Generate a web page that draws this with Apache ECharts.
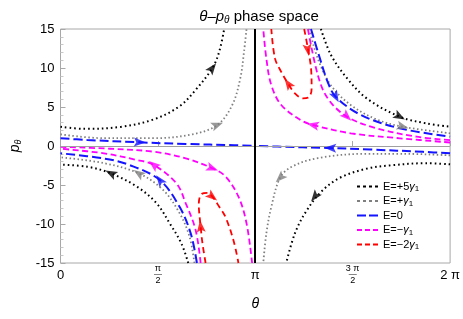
<!DOCTYPE html>
<html><head><meta charset="utf-8">
<script src="https://cdn.jsdelivr.net/npm/echarts@6/dist/echarts.min.js"></script>
<style>html,body{margin:0;padding:0;background:#fff}#c{width:463px;height:319px}</style>
</head><body><div id="c"></div>
<script>
// ---- data (theta, p_theta) ----
const K1 = [[0,2.47],[0.38,2.2],[0.97,2.45],[1.5,3.4],[1.92,5.1],[2.18,7.2],[2.45,10.0],[2.56,12.1],[2.64,15]];
const K2 = [[4.2,15],[4.36,11.7],[4.62,8.7],[4.94,6.1],[5.47,3.76],[5.9,2.9],[6.283,2.47]];
const K3 = [[6.283,-2.35],[5.9,-2.2],[5.3,-2.5],[4.94,-2.9],[4.5,-4.1],[4.2,-5.9],[3.96,-8.4],[3.78,-11.2],[3.64,-15]];
const K4 = [[2.06,-15],[1.95,-12.5],[1.76,-9.9],[1.55,-7.35],[1.23,-5.2],[0.81,-3.5],[0.43,-2.65],[0,-2.4]];
const G1 = [[0,1.5],[0.7,1.0],[1.5,1.0],[2.13,1.5],[2.53,2.7],[2.77,5.26],[2.9,8.7],[2.96,12.1],[3.0,15]];
const G2 = [[4.01,15],[4.15,11.2],[4.36,7.8],[4.68,5.26],[5.1,3.4],[5.52,2.47],[6.283,1.63]];
const G3 = [[6.283,-1.2],[5.5,-1.0],[4.94,-1.0],[4.15,-1.55],[3.72,-2.7],[3.54,-4.1],[3.4,-7.8],[3.32,-11.2],[3.27,-15]];
const G4 = [[2.16,-15],[2.08,-11.6],[1.92,-8.6],[1.65,-5.6],[1.26,-3.5],[0.7,-2.2],[0,-1.45]];
const B1 = [[0,1.0],[0.43,0.77],[1.28,0.47],[2.02,0.26],[2.8,0.1],[3.14,0.0]];
const B2 = [[4.04,15],[4.15,12.1],[4.31,8.2],[4.44,6.3],[4.84,4.0],[5.47,2.27],[6.283,1.2]];
const B3 = [[6.283,-0.94],[5.85,-0.75],[5.0,-0.45],[4.3,-0.25],[3.5,-0.08],[3.15,0.0]];
const B4 = [[2.2,-15],[2.1,-11.2],[1.92,-7.8],[1.6,-4.36],[1.1,-2.4],[0.7,-1.6],[0,-0.94]];
const M1 = [[0,-0.1],[0.8,-0.35],[1.5,-0.73],[2.02,-1.58],[2.45,-2.86],[2.66,-3.9],[2.87,-6.5],[3.0,-9.9],[3.09,-15]];
const M2 = [[2.26,-15],[2.18,-10.8],[2.02,-7.35],[1.87,-4.8],[1.5,-2.4],[1.23,-1.8],[0.7,-0.94],[0,-0.35]];
const M3 = [[6.283,0.45],[5.47,0.99],[4.68,1.63],[4.07,2.7],[3.88,3.3],[3.56,5.26],[3.4,7.8],[3.32,11.2],[3.27,15]];
const M4 = [[3.99,15],[4.15,9.1],[4.31,6.1],[4.62,3.76],[5.1,2.27],[5.74,1.2],[6.283,0.75]];
const R1 = [[3.93,15],[3.99,12.5],[4.04,10],[4.05,7.4],[4.01,6.3],[3.91,6.1],[3.78,6.75],[3.67,8.0],[3.56,9.5],[3.46,11.2],[3.4,15]];
const R2 = [[2.34,-15],[2.29,-12.5],[2.26,-10.3],[2.23,-7.4],[2.27,-6.2],[2.37,-6.0],[2.45,-6.5],[2.56,-7.8],[2.66,-9.1],[2.79,-12.1],[2.87,-15]];
// arrows: curve, theta, p
const arrowCurve = ['K1','K2','K3','K4','G1','G2','G3','G4','B1','B2','B3','B4','M1','M3','M2','M4','R1','R1','R2','R2'];
const arrowTheta = [2.45,5.47,4.1,0.81,2.53,5.52,3.54,1.26,1.28,4.44,4.35,1.6,2.45,4.07,1.5,4.62,3.67,3.99,2.26,2.45];
const arrowP     = [10.0,3.76,-6.5,-3.5,2.7,2.47,-4.1,-3.5,0.47,6.3,-0.25,-4.36,-2.86,2.7,-2.4,3.76,8.0,12.3,-10.3,-6.5];
const energyNames = ['E=+5γ1','E=+γ1','E=0','E=−γ1','E=−2γ1'];
const xTicks = ['0','{n|π}\n{b|—}\n{d|2}','{p|π}','{n|3 π}\n{b|—}\n{d|2}','2 π'];
const separatrixTheta = [Math.PI];
const zeroLineP = [0];

const curves = {K1,K2,K3,K4,G1,G2,G3,G4,B1,B2,B3,B4,M1,M2,M3,M4,R1,R2};
const styles = {
  K:{name:energyNames[0], color:'#000000', width:2, type:[1.6,3], icon:'path://M0,0h3v2h-3zM6,0h3v2h-3zM12,0h3v2h-3zM18,0h3v2h-3z'},
  G:{name:energyNames[1], color:'#7f7f7f', width:1.8, type:[1.5,2.5], icon:'path://M0,0h3v2h-3zM6,0h3v2h-3zM12,0h3v2h-3zM18,0h3v2h-3z'},
  B:{name:energyNames[2], color:'#1414ff', width:2, type:[9,4], icon:'path://M0,0h9v2h-9zM12,0h9v2h-9z'},
  M:{name:energyNames[3], color:'#ff00ff', width:1.8, type:[6,3.5], icon:'path://M0,0h5v2h-5zM8,0h5v2h-5zM16,0h5v2h-5z'},
  R:{name:energyNames[4], color:'#ff0000', width:1.8, type:[6,4], icon:'path://M0,0h5v2h-5zM8,0h5v2h-5zM16,0h5v2h-5z'}
};
const FONT = 'Liberation Sans, Arial, sans-serif';
const series = [];
series.push({type:'line', data:[], silent:true, markLine:{silent:true, symbol:'none', label:{show:false},
  data:[{yAxis:zeroLineP[0], lineStyle:{color:'#a0a0a0', width:1.2, type:'solid'}},
        {xAxis:separatrixTheta[0], lineStyle:{color:'#000', width:2, type:'solid'}}]}});
Object.keys(curves).forEach(k=>{
  const s = styles[k[0]];
  series.push({type:'line', name:s.name, data:curves[k], showSymbol:false, symbol:'none', smooth:0.35,
    lineStyle:{color:s.color, width:s.width, type:s.type, cap:'butt'}, itemStyle:{color:s.color}, z:3});
});
series.push({id:'arrows', type:'scatter', data:[], z:10, silent:true});

const legendData = ['K','G','B','M','R'].map(k=>({name:styles[k].name, icon:styles[k].icon}));

const option = {
  animation:false,
  textStyle:{fontFamily:FONT},
  title:{text:'{i|θ}–{i|p}{s|θ} phase space', left:254, textAlign:'center', top:3,
    textStyle:{fontFamily:FONT, fontSize:15, fontWeight:'normal', color:'#000',
      rich:{i:{fontFamily:FONT,fontSize:15,fontStyle:'italic'}, s:{fontFamily:FONT,fontSize:10,fontStyle:'italic',padding:[7,0,0,0]}}}},
  legend:{data:legendData, orient:'vertical', left:357, top:180, padding:0, itemWidth:21, itemHeight:2.2, itemGap:1.5,
    textStyle:{fontFamily:FONT, fontSize:11, color:'#000', lineHeight:13,
      rich:{g:{fontFamily:FONT,fontSize:11,fontStyle:'italic',lineHeight:13}, s:{fontFamily:FONT,fontSize:8,padding:[5,0,0,0],lineHeight:13}}},
    formatter: n => n.replace('γ1','{g|γ}{s|1}')},
  grid:{left:56, right:12, top:29, bottom:56, show:true, borderColor:'#a8a8a8', borderWidth:1},
  xAxis:{type:'value', min:0, max:2*Math.PI, interval:Math.PI/2,
    name:'θ', nameLocation:'middle', nameGap:34, nameTextStyle:{fontFamily:FONT, fontSize:14, fontStyle:'italic', color:'#000'},
    axisLine:{show:false}, splitLine:{show:false},
    axisTick:{show:true, inside:true, length:5, lineStyle:{color:'#a8a8a8'}},
    minorTick:{show:false},
    axisLabel:{margin:12, verticalAlign:'middle', color:'#000', fontFamily:FONT, fontSize:13,
      formatter: v => xTicks[Math.round(v/(Math.PI/2))],
      rich:{n:{fontSize:9,lineHeight:8,fontFamily:FONT,align:'center'}, b:{fontSize:8,lineHeight:3,fontFamily:FONT,align:'center'}, d:{fontSize:9,lineHeight:10,fontFamily:FONT,align:'center'}, p:{fontSize:13,fontFamily:FONT}}}},
  yAxis:{type:'value', min:-15, max:15, interval:5,
    name:'{i|p}{s|θ}', nameLocation:'middle', nameGap:38, nameRotate:90,
    nameTextStyle:{fontFamily:FONT, fontSize:13, color:'#000', rich:{i:{fontFamily:FONT,fontSize:14,fontStyle:'italic'}, s:{fontFamily:FONT,fontSize:9,fontStyle:'italic',padding:[6,0,0,0]}}},
    axisLine:{show:false}, splitLine:{show:false},
    axisTick:{show:true, inside:true, length:5, lineStyle:{color:'#a8a8a8'}},
    minorTick:{show:true, splitNumber:5, length:3, lineStyle:{color:'#c8c8c8'}},
    axisLabel:{margin:6, color:'#000', fontFamily:FONT, fontSize:13}},
  series
};
const chart = echarts.init(document.getElementById('c'), null, {renderer:'canvas'});
chart.setOption(option);

function arrowData(){
  const out = [];
  for (let a=0;a<arrowCurve.length;a++){
    const key = arrowCurve[a];
    const pts = curves[key].map(p=>chart.convertToPixel({gridIndex:0}, p));
    const q = chart.convertToPixel({gridIndex:0}, [arrowTheta[a], arrowP[a]]);
    let best=1e9, bi=0;
    for (let i=0;i<pts.length-1;i++){
      const dx=pts[i+1][0]-pts[i][0], dy=pts[i+1][1]-pts[i][1];
      const L=dx*dx+dy*dy||1;
      let t=((q[0]-pts[i][0])*dx+(q[1]-pts[i][1])*dy)/L; t=Math.max(0,Math.min(1,t));
      const px=pts[i][0]+t*dx, py=pts[i][1]+t*dy;
      const d=(px-q[0])**2+(py-q[1])**2;
      if(d<best){best=d;bi=i;}
    }
    const dx=pts[bi+1][0]-pts[bi][0], dy=pts[bi+1][1]-pts[bi][1];
    const rot = Math.atan2(-dx,-dy)*180/Math.PI;
    const col = styles[key[0]].color;
    out.push({value:[arrowTheta[a], arrowP[a]], symbol:'path://M0,0L5,12L0,9.5L-5,12Z', symbolSize:[9,12], symbolRotate:rot, itemStyle:{color:col}});
  }
  return out;
}
chart.setOption({series:[{id:'arrows', data:arrowData()}]});
</script></body></html>
